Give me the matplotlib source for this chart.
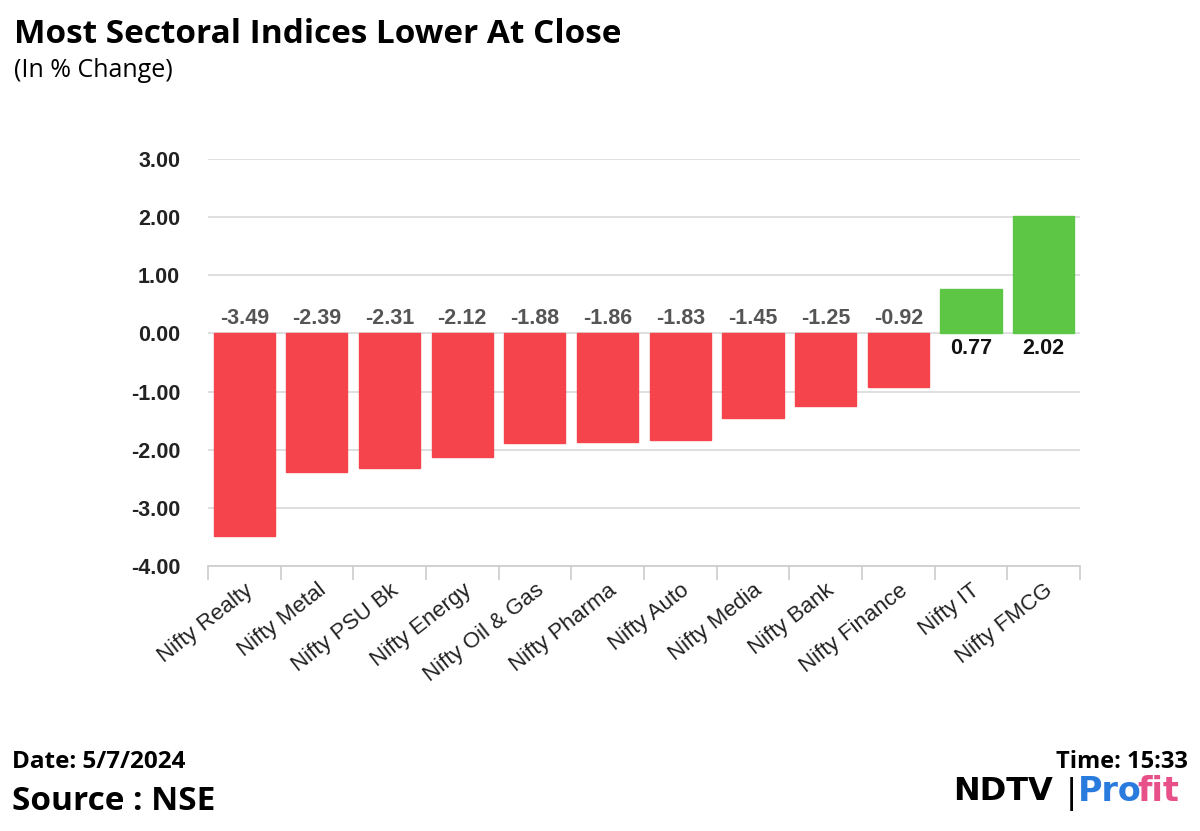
import matplotlib as mpl

mpl.use("Agg")
import matplotlib.pyplot as plt
import numpy as np

sectors = ["Nifty Realty", "Nifty Metal", "Nifty PSU Bk", "Nifty Energy", "Nifty Oil & Gas",
           "Nifty Pharma", "Nifty Auto", "Nifty Media", "Nifty Bank", "Nifty Finance",
           "Nifty IT", "Nifty FMCG"]
changes = [-3.49, -2.39, -2.31, -2.12, -1.88, -1.86, -1.83, -1.45, -1.25, -0.92, 0.77, 2.02]
yticks = [3, 2, 1, 0, -1, -2, -3, -4]

fig = plt.figure(figsize=(12, 8.31), dpi=100)
ax = fig.add_axes([0.1733, 0.3189, 0.7267, 0.4898])

x = np.arange(len(sectors))
colors = ["#F5444B" if v < 0 else "#5DC745" for v in changes]
ax.bar(x, changes, width=0.84, color=colors, edgecolor=colors, zorder=3)

for xi, v in zip(x, changes):
    if v < 0:
        ax.text(xi, 0.08, f"{v:.2f}", ha="center", va="bottom", fontsize=15.5,
                fontweight="bold", color="#555555", family="Liberation Sans")
    else:
        ax.text(xi, -0.08, f"{v:.2f}", ha="center", va="top", fontsize=15.5,
                fontweight="bold", color="#111111", family="Liberation Sans")

ax.set_xlim(-0.5, len(sectors) - 0.5)
ax.set_ylim(-4, 3)
ax.set_yticks(yticks)
ax.set_yticklabels([f"{t:.2f}" for t in yticks], fontsize=15.5, fontweight="bold",
                   family="Liberation Sans", color="#222222")
ax.grid(axis="y", color="#d9d9d9", linewidth=1.2, zorder=0)
ax.tick_params(axis="y", length=0, pad=20)

# category labels, with tick marks on category edges
ax.set_xticks(x)
ax.set_xticklabels(sectors, rotation=38, ha="right", rotation_mode="anchor",
                   fontsize=16, family="Liberation Sans", color="#222222")
ax.tick_params(axis="x", length=0, pad=10)
ax.set_xticks(np.arange(len(sectors) + 1) - 0.5, minor=True)
ax.tick_params(axis="x", which="minor", length=10, color="#cccccc", width=1.2)

for s in ["top", "right", "left"]:
    ax.spines[s].set_visible(False)
ax.spines["bottom"].set_color("#cccccc")
ax.spines["bottom"].set_linewidth(1.2)

fig.text(0.012, 0.958, "Most Sectoral Indices Lower At Close", fontsize=24,
         fontweight="bold", family="Open Sans", va="center")
fig.text(0.012, 0.915, "(In % Change)", fontsize=18, family="Open Sans", va="center")
fig.text(0.01, 0.083, "Date: 5/7/2024", fontsize=17.5, fontweight="bold",
         family="Open Sans", va="center")
fig.text(0.01, 0.035, "Source : NSE", fontsize=24, fontweight="bold",
         family="Open Sans", va="center")
fig.text(0.99, 0.083, "Time: 15:33", fontsize=17, fontweight="bold",
         family="Open Sans", va="center", ha="right")

# logo
fig.text(0.794, 0.047, "NDTV", fontsize=23, fontweight="bold", family="DejaVu Sans",
         va="center", ha="left", color="black")
fig.text(0.888, 0.045, "|", fontsize=24, family="DejaVu Sans", va="center", color="black")
fig.text(0.898, 0.047, "Pro", fontsize=24, fontweight="bold", family="DejaVu Sans",
         va="center", color="#2A7BDE")
fig.text(0.948, 0.047, "fit", fontsize=24, fontweight="bold", family="DejaVu Sans",
         va="center", color="#E8508A")

fig.savefig("out.png", dpi=100)
